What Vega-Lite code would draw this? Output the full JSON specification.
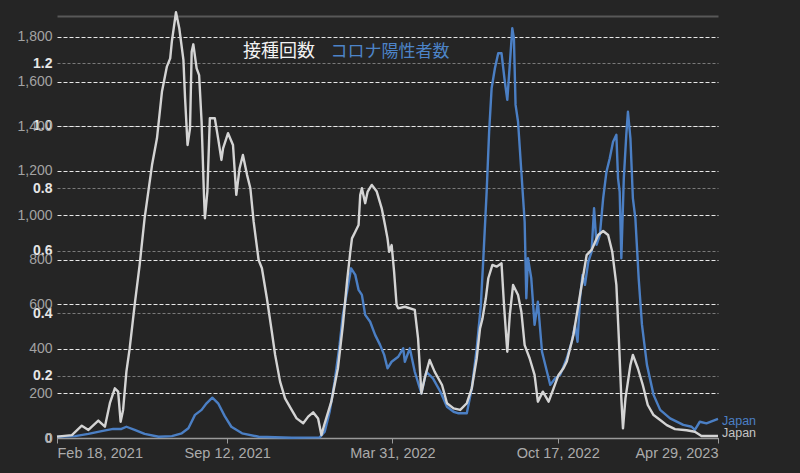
{
  "$schema": "https://vega.github.io/schema/vega-lite/v6.json",
  "width": 661,
  "height": 422,
  "autosize": "none",
  "padding": {"left": 57, "top": 16, "right": 82, "bottom": 35},
  "background": "#252525",
  "config": {"view": {"stroke": null}, "font": "Liberation Sans"},
  "datasets": {
    "vacc": [
      {"date": "2021-02-18", "v": 6}, {"date": "2021-03-08", "v": 13}, {"date": "2021-03-20", "v": 55},
      {"date": "2021-03-28", "v": 36}, {"date": "2021-04-09", "v": 78}, {"date": "2021-04-17", "v": 51},
      {"date": "2021-04-23", "v": 156}, {"date": "2021-04-29", "v": 223}, {"date": "2021-05-03", "v": 208},
      {"date": "2021-05-06", "v": 73}, {"date": "2021-05-09", "v": 126}, {"date": "2021-05-13", "v": 298},
      {"date": "2021-05-17", "v": 403}, {"date": "2021-05-23", "v": 597}, {"date": "2021-05-29", "v": 776},
      {"date": "2021-06-04", "v": 986}, {"date": "2021-06-13", "v": 1225}, {"date": "2021-06-19", "v": 1345},
      {"date": "2021-06-25", "v": 1554}, {"date": "2021-07-01", "v": 1667}, {"date": "2021-07-05", "v": 1704},
      {"date": "2021-07-07", "v": 1779}, {"date": "2021-07-12", "v": 1911}, {"date": "2021-07-16", "v": 1839},
      {"date": "2021-07-21", "v": 1697}, {"date": "2021-07-23", "v": 1525}, {"date": "2021-07-26", "v": 1315},
      {"date": "2021-07-29", "v": 1390}, {"date": "2021-07-31", "v": 1734}, {"date": "2021-08-02", "v": 1767},
      {"date": "2021-08-06", "v": 1659}, {"date": "2021-08-09", "v": 1629}, {"date": "2021-08-12", "v": 1420},
      {"date": "2021-08-15", "v": 1076}, {"date": "2021-08-16", "v": 986}, {"date": "2021-08-19", "v": 1106},
      {"date": "2021-08-22", "v": 1435}, {"date": "2021-08-28", "v": 1435}, {"date": "2021-09-01", "v": 1345},
      {"date": "2021-09-05", "v": 1248}, {"date": "2021-09-07", "v": 1300}, {"date": "2021-09-13", "v": 1368},
      {"date": "2021-09-19", "v": 1315}, {"date": "2021-09-23", "v": 1091}, {"date": "2021-09-27", "v": 1211},
      {"date": "2021-10-01", "v": 1270}, {"date": "2021-10-06", "v": 1181}, {"date": "2021-10-10", "v": 1121},
      {"date": "2021-10-14", "v": 971}, {"date": "2021-10-20", "v": 799}, {"date": "2021-10-24", "v": 762},
      {"date": "2021-10-30", "v": 627}, {"date": "2021-11-05", "v": 477}, {"date": "2021-11-09", "v": 373},
      {"date": "2021-11-15", "v": 253}, {"date": "2021-11-21", "v": 178}, {"date": "2021-11-29", "v": 126},
      {"date": "2021-12-05", "v": 88}, {"date": "2021-12-13", "v": 66}, {"date": "2021-12-19", "v": 96},
      {"date": "2021-12-25", "v": 115}, {"date": "2021-12-31", "v": 88}, {"date": "2022-01-04", "v": 13},
      {"date": "2022-01-08", "v": 66}, {"date": "2022-01-16", "v": 163}, {"date": "2022-01-24", "v": 313},
      {"date": "2022-01-30", "v": 507}, {"date": "2022-02-04", "v": 702}, {"date": "2022-02-08", "v": 836},
      {"date": "2022-02-10", "v": 896}, {"date": "2022-02-14", "v": 926}, {"date": "2022-02-18", "v": 956},
      {"date": "2022-02-20", "v": 1091}, {"date": "2022-02-22", "v": 1121}, {"date": "2022-02-26", "v": 1054},
      {"date": "2022-03-01", "v": 1106}, {"date": "2022-03-06", "v": 1136}, {"date": "2022-03-12", "v": 1106},
      {"date": "2022-03-18", "v": 1031}, {"date": "2022-03-22", "v": 956}, {"date": "2022-03-25", "v": 896},
      {"date": "2022-03-27", "v": 836}, {"date": "2022-03-30", "v": 866}, {"date": "2022-04-02", "v": 746},
      {"date": "2022-04-05", "v": 597}, {"date": "2022-04-07", "v": 582}, {"date": "2022-04-15", "v": 589},
      {"date": "2022-04-27", "v": 575}, {"date": "2022-05-01", "v": 447}, {"date": "2022-05-05", "v": 200},
      {"date": "2022-05-09", "v": 268}, {"date": "2022-05-15", "v": 350}, {"date": "2022-05-21", "v": 298},
      {"date": "2022-05-30", "v": 238}, {"date": "2022-06-05", "v": 156}, {"date": "2022-06-13", "v": 133},
      {"date": "2022-06-21", "v": 126}, {"date": "2022-06-29", "v": 156}, {"date": "2022-07-05", "v": 223},
      {"date": "2022-07-11", "v": 358}, {"date": "2022-07-15", "v": 492}, {"date": "2022-07-18", "v": 537},
      {"date": "2022-07-22", "v": 627}, {"date": "2022-07-25", "v": 717}, {"date": "2022-07-30", "v": 777},
      {"date": "2022-08-04", "v": 769}, {"date": "2022-08-10", "v": 784}, {"date": "2022-08-13", "v": 597},
      {"date": "2022-08-17", "v": 387}, {"date": "2022-08-20", "v": 552}, {"date": "2022-08-24", "v": 687},
      {"date": "2022-08-30", "v": 642}, {"date": "2022-09-03", "v": 567}, {"date": "2022-09-07", "v": 417},
      {"date": "2022-09-13", "v": 358}, {"date": "2022-09-19", "v": 283}, {"date": "2022-09-23", "v": 163},
      {"date": "2022-09-29", "v": 208}, {"date": "2022-10-06", "v": 163}, {"date": "2022-10-12", "v": 223},
      {"date": "2022-10-18", "v": 283}, {"date": "2022-10-24", "v": 313}, {"date": "2022-10-28", "v": 343},
      {"date": "2022-11-05", "v": 462}, {"date": "2022-11-13", "v": 642}, {"date": "2022-11-21", "v": 821},
      {"date": "2022-11-27", "v": 844}, {"date": "2022-12-05", "v": 911}, {"date": "2022-12-11", "v": 929},
      {"date": "2022-12-17", "v": 911}, {"date": "2022-12-22", "v": 836}, {"date": "2022-12-27", "v": 687},
      {"date": "2022-12-30", "v": 447}, {"date": "2023-01-02", "v": 178}, {"date": "2023-01-04", "v": 43},
      {"date": "2023-01-07", "v": 178}, {"date": "2023-01-10", "v": 253}, {"date": "2023-01-13", "v": 328},
      {"date": "2023-01-16", "v": 373}, {"date": "2023-01-22", "v": 313}, {"date": "2023-01-28", "v": 238},
      {"date": "2023-02-03", "v": 148}, {"date": "2023-02-10", "v": 103}, {"date": "2023-02-18", "v": 81},
      {"date": "2023-02-26", "v": 58}, {"date": "2023-03-08", "v": 40}, {"date": "2023-03-22", "v": 35},
      {"date": "2023-04-01", "v": 28}, {"date": "2023-04-09", "v": 9}, {"date": "2023-04-29", "v": 9}
    ],
    "cases": [
      {"date": "2021-02-18", "v": 0.004}, {"date": "2021-03-12", "v": 0.006}, {"date": "2021-03-28", "v": 0.013},
      {"date": "2021-04-13", "v": 0.022}, {"date": "2021-04-27", "v": 0.029}, {"date": "2021-05-07", "v": 0.029},
      {"date": "2021-05-13", "v": 0.036}, {"date": "2021-05-23", "v": 0.026}, {"date": "2021-06-04", "v": 0.013},
      {"date": "2021-06-21", "v": 0.004}, {"date": "2021-07-07", "v": 0.006}, {"date": "2021-07-19", "v": 0.015},
      {"date": "2021-07-27", "v": 0.031}, {"date": "2021-08-04", "v": 0.074}, {"date": "2021-08-12", "v": 0.09},
      {"date": "2021-08-18", "v": 0.111}, {"date": "2021-08-25", "v": 0.129}, {"date": "2021-09-01", "v": 0.111},
      {"date": "2021-09-09", "v": 0.07}, {"date": "2021-09-17", "v": 0.036}, {"date": "2021-09-30", "v": 0.015},
      {"date": "2021-10-20", "v": 0.004}, {"date": "2021-11-29", "v": 0.001}, {"date": "2022-01-02", "v": 0.002},
      {"date": "2022-01-08", "v": 0.02}, {"date": "2022-01-14", "v": 0.084}, {"date": "2022-01-20", "v": 0.18},
      {"date": "2022-01-26", "v": 0.298}, {"date": "2022-01-30", "v": 0.394}, {"date": "2022-02-04", "v": 0.468},
      {"date": "2022-02-09", "v": 0.543}, {"date": "2022-02-14", "v": 0.522}, {"date": "2022-02-18", "v": 0.474},
      {"date": "2022-02-22", "v": 0.458}, {"date": "2022-02-26", "v": 0.394}, {"date": "2022-03-04", "v": 0.372},
      {"date": "2022-03-10", "v": 0.33}, {"date": "2022-03-16", "v": 0.298}, {"date": "2022-03-21", "v": 0.266},
      {"date": "2022-03-25", "v": 0.223}, {"date": "2022-03-30", "v": 0.244}, {"date": "2022-04-07", "v": 0.26},
      {"date": "2022-04-13", "v": 0.287}, {"date": "2022-04-15", "v": 0.244}, {"date": "2022-04-21", "v": 0.287},
      {"date": "2022-04-27", "v": 0.212}, {"date": "2022-05-05", "v": 0.143}, {"date": "2022-05-11", "v": 0.212},
      {"date": "2022-05-19", "v": 0.191}, {"date": "2022-05-28", "v": 0.148}, {"date": "2022-06-05", "v": 0.1},
      {"date": "2022-06-13", "v": 0.084}, {"date": "2022-06-19", "v": 0.079}, {"date": "2022-06-29", "v": 0.079},
      {"date": "2022-07-05", "v": 0.159}, {"date": "2022-07-11", "v": 0.287}, {"date": "2022-07-16", "v": 0.426},
      {"date": "2022-07-19", "v": 0.575}, {"date": "2022-07-23", "v": 0.788}, {"date": "2022-07-26", "v": 0.98},
      {"date": "2022-07-29", "v": 1.119}, {"date": "2022-08-02", "v": 1.183}, {"date": "2022-08-06", "v": 1.231},
      {"date": "2022-08-10", "v": 1.231}, {"date": "2022-08-14", "v": 1.14}, {"date": "2022-08-17", "v": 1.082},
      {"date": "2022-08-20", "v": 1.194}, {"date": "2022-08-23", "v": 1.311}, {"date": "2022-08-25", "v": 1.279},
      {"date": "2022-08-27", "v": 1.066}, {"date": "2022-08-30", "v": 1.012}, {"date": "2022-09-03", "v": 0.852},
      {"date": "2022-09-07", "v": 0.692}, {"date": "2022-09-09", "v": 0.447}, {"date": "2022-09-11", "v": 0.575},
      {"date": "2022-09-15", "v": 0.511}, {"date": "2022-09-19", "v": 0.362}, {"date": "2022-09-23", "v": 0.436},
      {"date": "2022-09-28", "v": 0.276}, {"date": "2022-10-04", "v": 0.212}, {"date": "2022-10-08", "v": 0.17},
      {"date": "2022-10-14", "v": 0.191}, {"date": "2022-10-20", "v": 0.202}, {"date": "2022-10-28", "v": 0.255},
      {"date": "2022-11-03", "v": 0.308}, {"date": "2022-11-07", "v": 0.362}, {"date": "2022-11-10", "v": 0.308},
      {"date": "2022-11-13", "v": 0.447}, {"date": "2022-11-16", "v": 0.522}, {"date": "2022-11-19", "v": 0.49},
      {"date": "2022-11-23", "v": 0.564}, {"date": "2022-11-27", "v": 0.596}, {"date": "2022-11-30", "v": 0.735},
      {"date": "2022-12-03", "v": 0.618}, {"date": "2022-12-07", "v": 0.65}, {"date": "2022-12-11", "v": 0.767},
      {"date": "2022-12-15", "v": 0.852}, {"date": "2022-12-19", "v": 0.895}, {"date": "2022-12-23", "v": 0.948},
      {"date": "2022-12-27", "v": 0.97}, {"date": "2022-12-29", "v": 0.831}, {"date": "2022-12-31", "v": 0.788},
      {"date": "2023-01-02", "v": 0.575}, {"date": "2023-01-05", "v": 0.831}, {"date": "2023-01-08", "v": 0.97},
      {"date": "2023-01-10", "v": 1.044}, {"date": "2023-01-13", "v": 0.959}, {"date": "2023-01-16", "v": 0.767},
      {"date": "2023-01-19", "v": 0.703}, {"date": "2023-01-23", "v": 0.511}, {"date": "2023-01-27", "v": 0.362},
      {"date": "2023-02-02", "v": 0.234}, {"date": "2023-02-10", "v": 0.138}, {"date": "2023-02-18", "v": 0.09},
      {"date": "2023-03-02", "v": 0.063}, {"date": "2023-03-18", "v": 0.042}, {"date": "2023-03-28", "v": 0.036},
      {"date": "2023-04-01", "v": 0.026}, {"date": "2023-04-07", "v": 0.052}, {"date": "2023-04-15", "v": 0.047},
      {"date": "2023-04-29", "v": 0.061}
    ]
  },
  "layer": [
    {
      "data": {"name": "cases"},
      "encoding": {
        "x": {
          "field": "date",
          "type": "temporal",
          "scale": {"type": "utc", "domain": [{"year": 2021, "month": 2, "date": 18, "utc": true}, {"year": 2023, "month": 4, "date": 29, "utc": true}]},
          "axis": {"orient": "top", "title": null, "labels": false, "ticks": false, "grid": false, "domainColor": "#585858", "domainWidth": 2}
        },
        "y": {
          "field": "v",
          "type": "quantitative",
          "scale": {"domain": [0, 1.3504], "nice": false},
          "axis": {
            "orient": "left",
            "title": null,
            "values": [0, 0.2, 0.4, 0.6, 0.8, 1.0, 1.2],
            "labelExpr": "datum.value == 0 ? '0' : format(datum.value, '.1f')",
            "labelColor": "#e6e6e6",
            "labelFontSize": 14,
            "labelFontWeight": "bold",
            "labelPadding": 5,
            "ticks": false,
            "tickSize": 0,
            "domain": false,
            "gridColor": "#7a7a7a",
            "gridDash": [3, 2],
            "gridWidth": 1
          }
        }
      },
      "layer": [
        {"mark": {"type": "line", "color": "#4b7fc4", "strokeWidth": 2.4, "strokeJoin": "round", "clip": false}},
        {
          "transform": [{"filter": {"field": "date", "equal": {"year": 2023, "month": 4, "date": 29, "utc": true}}}],
          "mark": {"type": "text", "text": "Japan", "align": "left", "baseline": "middle", "dx": 4, "dy": 2, "color": "#4b7fc4", "fontSize": 12.5}
        },
        {
          "data": {"values": [{"date": "2022-01-15", "v": 1.235, "label": "コロナ陽性者数"}]},
          "mark": {"type": "text", "align": "left", "baseline": "middle", "color": "#4d84c8", "fontSize": 17, "font": "Noto Sans CJK JP"},
          "encoding": {"text": {"field": "label"}}
        }
      ]
    },
    {
      "data": {"name": "vacc"},
      "encoding": {
        "x": {
          "field": "date",
          "type": "temporal",
          "scale": {"type": "utc", "domain": [{"year": 2021, "month": 2, "date": 18, "utc": true}, {"year": 2023, "month": 4, "date": 29, "utc": true}]},
          "axis": {
            "orient": "bottom",
            "title": null,
            "grid": false,
            "values": [
              {"year": 2021, "month": 2, "date": 18, "utc": true},
              {"year": 2021, "month": 9, "date": 12, "utc": true},
              {"year": 2022, "month": 3, "date": 31, "utc": true},
              {"year": 2022, "month": 10, "date": 17, "utc": true},
              {"year": 2023, "month": 4, "date": 29, "utc": true}
            ],
            "format": "%b %d, %Y",
            "labelFlush": true,
            "labelColor": "#ababab",
            "labelFontSize": 14.5,
            "labelPadding": 3,
            "tickColor": "#9a9a9a",
            "tickSize": 5,
            "domainColor": "#9a9a9a",
            "domainWidth": 1.5
          }
        },
        "y": {
          "field": "v",
          "type": "quantitative",
          "scale": {"domain": [0, 1894], "nice": false},
          "axis": {
            "orient": "left",
            "title": null,
            "values": [0, 200, 400, 600, 800, 1000, 1200, 1400, 1600, 1800],
            "format": ",.0f",
            "labelColor": "#a3a3a3",
            "labelFontSize": 14,
            "labelPadding": 5,
            "ticks": false,
            "tickSize": 0,
            "domain": false,
            "grid": true,
            "gridColor": "#e8e8e8",
            "gridDash": [4, 2],
            "gridWidth": 1,
            "gridOpacity": 1
          }
        }
      },
      "layer": [
        {"mark": {"type": "line", "color": "#d4d4d4", "strokeWidth": 2.4, "strokeJoin": "round", "clip": false}},
        {
          "transform": [{"filter": {"field": "date", "equal": {"year": 2023, "month": 4, "date": 29, "utc": true}}}],
          "mark": {"type": "text", "text": "Japan", "align": "left", "baseline": "middle", "dx": 4, "dy": -3, "color": "#c4c4c4", "fontSize": 12.5}
        },
        {
          "data": {"values": [{"date": "2021-10-01", "v": 1733, "label": "接種回数"}]},
          "mark": {"type": "text", "align": "left", "baseline": "middle", "color": "#f2f2f2", "fontSize": 18, "font": "Noto Sans CJK JP"},
          "encoding": {"text": {"field": "label"}}
        }
      ]
    }
  ],
  "resolve": {"scale": {"y": "independent"}, "axis": {"x": "independent", "y": "independent"}}
}
